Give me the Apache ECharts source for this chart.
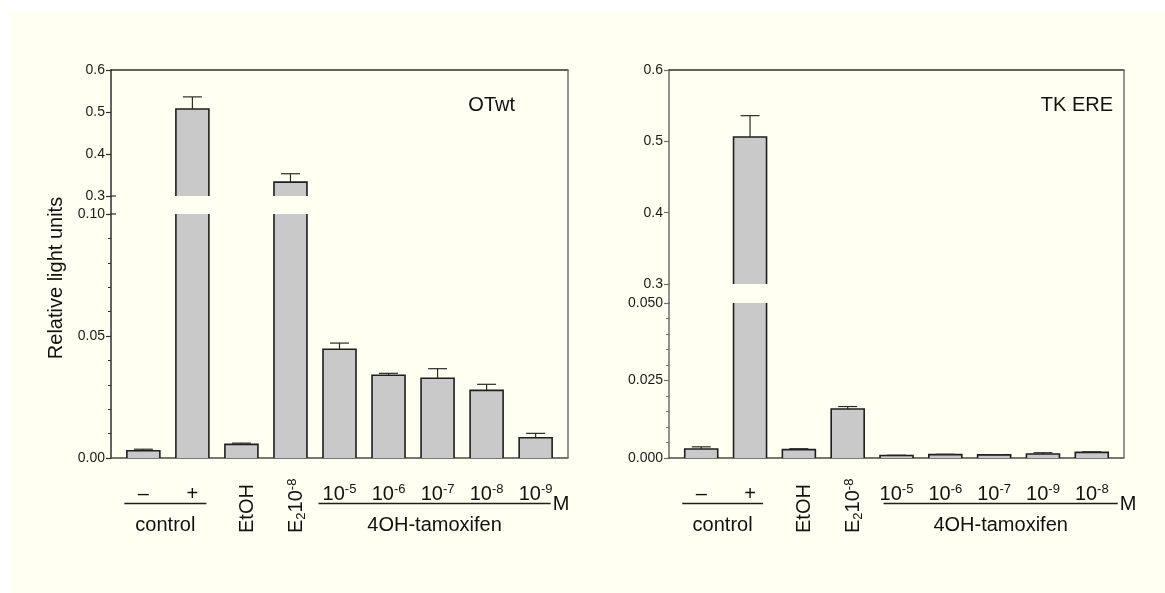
<!DOCTYPE html>
<html>
<head>
<meta charset="utf-8">
<script src="https://cdn.jsdelivr.net/npm/echarts@6/dist/echarts.min.js"></script>
<style>
  html, body { margin: 0; padding: 0; background: #ffffff; }
  #chart { width: 1165px; height: 593px; }
</style>
</head>
<body>
<div id="chart"></div>
<script>
// ---- Data: relative light units (mean) and upper error per condition ----
// "^" marks a superscript, "_" a subscript in the condition labels.
const otwtCategories = ['–', '+', 'EtOH', 'E_2 10^-8', '10^-5', '10^-6', '10^-7', '10^-8', '10^-9'];
const otwtMean = [0.0030, 0.507, 0.0056, 0.333, 0.0446, 0.0339, 0.0327, 0.0277, 0.0083];
const otwtErr  = [0.0006, 0.029, 0.0005, 0.020, 0.0025, 0.0008, 0.0039, 0.0025, 0.0018];

const tkCategories = ['–', '+', 'EtOH', 'E_2 10^-8', '10^-5', '10^-6', '10^-7', '10^-9', '10^-8'];
const tkMean = [0.0029, 0.506, 0.0027, 0.0158, 0.0008, 0.0011, 0.0010, 0.0013, 0.0018];
const tkErr  = [0.0007, 0.030, 0.0003, 0.0008, 0.0001, 0.0001, 0.0001, 0.0004, 0.0002];

// Broken y axis: upper and lower segment ticks
const otwtUpperTicks = [0.3, 0.4, 0.5, 0.6];
const otwtUpperLabels = ['0.3', '0.4', '0.5', '0.6'];
const otwtLowerTicks = [0, 0.05, 0.10];
const otwtLowerLabels = ['0.00', '0.05', '0.10'];

const tkUpperTicks = [0.3, 0.4, 0.5, 0.6];
const tkUpperLabels = ['0.3', '0.4', '0.5', '0.6'];
const tkLowerTicks = [0, 0.025, 0.050];
const tkLowerLabels = ['0.000', '0.025', '0.050'];

// Category groupings drawn under the axis
const groupControl = { name: 'control', from: 0, to: 1 };
const groupTamoxifen = { name: '4OH-tamoxifen', from: 4, to: 8, unit: 'M' };
const rotatedIdx = [2, 3];

const panelTitles = ['OTwt', 'TK ERE'];
const yAxisTitle = 'Relative light units';

// ---- Styling / layout ----
const FONT = '"Liberation Sans", Arial, Helvetica, sans-serif';
const CREAM = '#FFFFF2';
const BAR_FILL = '#C9C9C9';
const INK = '#1E1E1E';
const BAR_W = 33;
const CAP_W = 19;
const X_MIN = -0.66, X_MAX = 8.66;

const PANELS = [
  { categories: otwtCategories, mean: otwtMean, err: otwtErr,
    upper: [otwtUpperTicks, otwtUpperLabels, 0], lower: [otwtLowerTicks, otwtLowerLabels, 5],
    left: 111, right: 568, top: 70, breakTop: 196, breakBottom: 214, bottom: 458,
    axisColor: '#2E2E2E', borderColor: '#707070', breakMark: 5,
    ctrlPad: [19, 14], tamPad: [21, 15], titleX: 515 },
  { categories: tkCategories, mean: tkMean, err: tkErr,
    upper: [tkUpperTicks, tkUpperLabels, 0], lower: [tkLowerTicks, tkLowerLabels, 5],
    left: 669, right: 1124, top: 70, breakTop: 284, breakBottom: 303, bottom: 458,
    axisColor: '#6E6E6E', borderColor: '#707070', breakMark: 1,
    ctrlPad: [19, 13], tamPad: [13, 26], titleX: 1113 }
];

const chart = echarts.init(document.getElementById('chart'), null, { renderer: 'canvas' });

function yAxisCfg(gridIndex, ticks, labels, minorSplit, color) {
  return {
    type: 'value', gridIndex,
    min: ticks[0], max: ticks[ticks.length - 1],
    interval: +(ticks[1] - ticks[0]).toFixed(6),
    axisLine: { show: true, onZero: false, lineStyle: { color, width: 1.5 } },
    axisTick: { show: true, length: 5, lineStyle: { color, width: 1.2 } },
    minorTick: { show: minorSplit > 0, splitNumber: minorSplit || 5, length: 3, lineStyle: { color, width: 1 } },
    splitLine: { show: false }, minorSplitLine: { show: false },
    axisLabel: {
      margin: 6, color: '#1A1A1A', fontSize: 14, fontFamily: FONT,
      showMinLabel: true, showMaxLabel: true,
      formatter: v => {
        const k = ticks.findIndex(t => Math.abs(t - v) < 1e-9);
        return k < 0 ? '' : labels[k];
      }
    }
  };
}

function xAxisCfg(gridIndex, position, color) {
  return {
    type: 'value', gridIndex, min: X_MIN, max: X_MAX, position,
    axisLine: { show: true, onZero: false, lineStyle: { color, width: 1.5 } },
    axisTick: { show: false }, axisLabel: { show: false }, splitLine: { show: false }
  };
}

// Bar outline (skips edges that fall outside the segment) plus upper error bar
function renderOutline(params, api) {
  const cs = params.coordSys;
  const i = api.value(0), v = api.value(1), e = api.value(2);
  const top = api.coord([i, v]);
  const base = api.coord([i, 0]);
  const yMin = cs.y, yMax = cs.y + cs.height;
  const y1 = Math.max(top[1], yMin);
  const y2 = Math.min(base[1], yMax);
  if (y1 >= y2) return null;
  const xl = top[0] - BAR_W / 2, xr = top[0] + BAR_W / 2;
  const st = { stroke: INK, lineWidth: 1.6, fill: null };
  const kids = [];
  if (top[1] >= yMin) {
    kids.push({ type: 'polyline', shape: { points: [[xl, y2], [xl, y1], [xr, y1], [xr, y2]] }, style: st });
    if (e > 0) {
      const hi = api.coord([i, v + e]);
      const es = { stroke: '#2A2A2A', lineWidth: 1.2, fill: null };
      kids.push({ type: 'line', shape: { x1: top[0], y1: y1, x2: top[0], y2: hi[1] }, style: es });
      kids.push({ type: 'line', shape: { x1: top[0] - CAP_W / 2, y1: hi[1], x2: top[0] + CAP_W / 2, y2: hi[1] }, style: es });
    }
  } else {
    kids.push({ type: 'line', shape: { x1: xl, y1: y1, x2: xl, y2: y2 }, style: st });
    kids.push({ type: 'line', shape: { x1: xr, y1: y1, x2: xr, y2: y2 }, style: st });
  }
  return { type: 'group', children: kids };
}

const grid = [], xAxis = [], yAxis = [], series = [];
PANELS.forEach((P, p) => {
  const w = P.right - P.left;
  const segs = [
    { top: P.top, height: P.breakTop - P.top, ticks: P.upper, pos: 'top' },
    { top: P.breakBottom, height: P.bottom - P.breakBottom, ticks: P.lower, pos: 'bottom' }
  ];
  segs.forEach((s, k) => {
    const gi = p * 2 + k;
    grid.push({ left: P.left, top: s.top, width: w, height: s.height, containLabel: false });
    xAxis.push(xAxisCfg(gi, s.pos, k === 0 ? '#2E2E2E' : '#4A4A4A'));
    yAxis.push(yAxisCfg(gi, s.ticks[0], s.ticks[1], s.ticks[2], P.axisColor));
    series.push({
      type: 'bar', xAxisIndex: gi, yAxisIndex: gi, barWidth: BAR_W, clip: true,
      itemStyle: { color: BAR_FILL, borderWidth: 0 },
      data: P.mean.map((v, i) => [i, v]), z: 2
    });
    series.push({
      type: 'custom', xAxisIndex: gi, yAxisIndex: gi, renderItem: renderOutline,
      encode: { x: 0, y: 1 },
      data: P.mean.map((v, i) => [i, v, P.err[i]]), z: 3
    });
  });
});

chart.setOption({
  animation: false,
  backgroundColor: 'transparent',
  grid, xAxis, yAxis, series
});

// ---- Text and frame drawn around the plot ----
function toRich(label) {
  let out = '';
  const re = /([\^_]?)([^\^_ ]+)/g;
  let m;
  while ((m = re.exec(label))) {
    const s = m[1] === '^' ? 'sup' : (m[1] === '_' ? 'sub' : 'b');
    out += '{' + s + '|' + m[2] + '}';
  }
  return out;
}
const RICH = {
  b:   { fontSize: 20, lineHeight: 22, fontFamily: FONT, fill: '#111', color: '#111', verticalAlign: 'middle' },
  sup: { fontSize: 13, lineHeight: 13, fontFamily: FONT, fill: '#111', color: '#111', verticalAlign: 'top' },
  sub: { fontSize: 13, lineHeight: 13, fontFamily: FONT, fill: '#111', color: '#111', verticalAlign: 'bottom' }
};
function textEl(x, y, text, align, vAlign, extra) {
  return Object.assign({
    type: 'text', x, y, silent: true, z: 10,
    style: {
      text, rich: RICH, fontSize: 20, fontFamily: FONT, fill: '#111',
      align, textAlign: align, verticalAlign: vAlign, textVerticalAlign: vAlign
    }
  }, extra || {});
}
function lineEl(x1, y1, x2, y2, color, width) {
  return { type: 'line', silent: true, z: 10, shape: { x1, y1, x2, y2 }, style: { stroke: color, lineWidth: width } };
}

const LABEL_Y = 494, LINE_Y = 503.5, GROUP_Y = 525, ROT_BOTTOM = 533, UNIT_Y = 504;
const elements = [
  { type: 'rect', silent: true, z: -10, shape: { x: 10, y: 12, width: 1155, height: 581 }, style: { fill: CREAM } },
  textEl(56, 278, yAxisTitle, 'center', 'middle', { rotation: Math.PI / 2 })
];

PANELS.forEach((P, p) => {
  const gi = p * 2 + 1;
  const px = i => chart.convertToPixel({ gridIndex: gi }, [i, 0])[0];

  // frame: continuous right border, axis through the break, break marks
  elements.push(lineEl(P.right, P.top, P.right, P.bottom, P.borderColor, 1.5));
  elements.push(lineEl(P.left, P.breakTop, P.left, P.breakBottom, P.axisColor, 1.5));
  elements.push(lineEl(P.left, P.breakTop, P.left + P.breakMark, P.breakTop, P.axisColor, 1.2));
  elements.push(lineEl(P.left, P.breakBottom, P.left + P.breakMark, P.breakBottom, P.axisColor, 1.2));

  elements.push(textEl(P.titleX, 105, panelTitles[p], 'right', 'middle'));

  P.categories.forEach((c, i) => {
    const x = px(i);
    if (rotatedIdx.includes(i)) {
      elements.push(textEl(x + 6, ROT_BOTTOM, toRich(c), 'left', 'middle', { rotation: Math.PI / 2 }));
    } else {
      elements.push(textEl(x, LABEL_Y, toRich(c), 'center', 'middle'));
    }
  });

  [[groupControl, P.ctrlPad], [groupTamoxifen, P.tamPad]].forEach(([g, pad]) => {
    const x1 = px(g.from) - pad[0], x2 = px(g.to) + pad[1];
    elements.push(lineEl(x1, LINE_Y, x2, LINE_Y, '#1E1E1E', 1.3));
    elements.push(textEl((x1 + x2) / 2, GROUP_Y, g.name, 'center', 'middle'));
    if (g.unit) elements.push(textEl(x2 + 2, UNIT_Y, g.unit, 'left', 'middle'));
  });
});

chart.setOption({ graphic: { elements } });
</script>
</body>
</html>
